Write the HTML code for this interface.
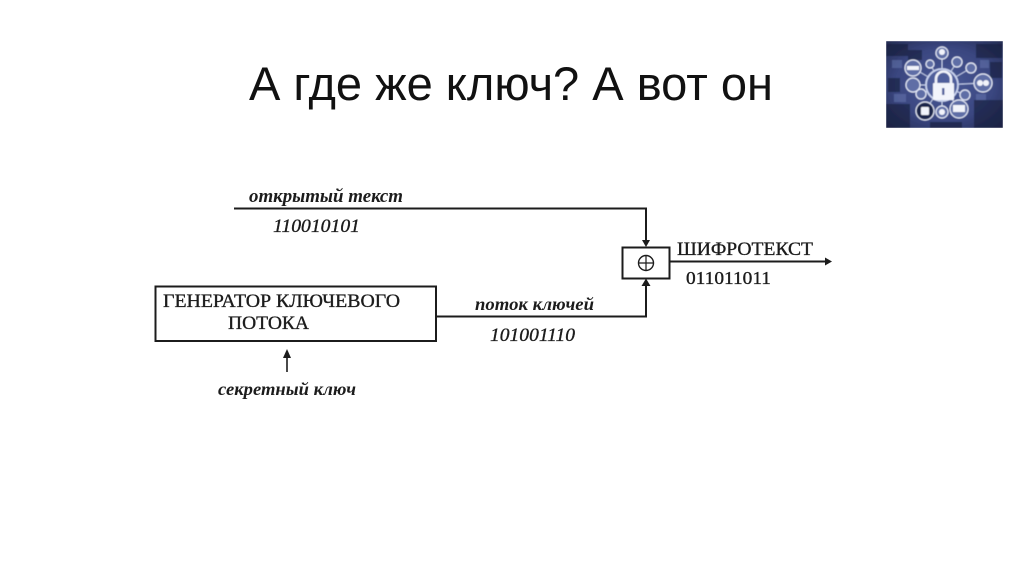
<!DOCTYPE html>
<html lang="ru">
<head>
<meta charset="utf-8">
<style>
html,body{margin:0;padding:0;background:#fff}
svg{display:block}
.s{font-family:"Liberation Serif","DejaVu Serif",serif;fill:#1c1c1c;font-weight:bold}
.n{font-weight:normal;stroke:#1c1c1c;stroke-width:.35px}
.i{font-style:italic}
</style>
</head>
<body>
<svg width="1024" height="574" viewBox="0 0 1024 574" xmlns="http://www.w3.org/2000/svg">
<defs>
<radialGradient id="bg" cx=".5" cy=".5" r=".7">
<stop offset="0" stop-color="#4a5a96"/><stop offset=".6" stop-color="#3a4680"/><stop offset="1" stop-color="#232c52"/>
</radialGradient>
<filter id="b" x="0" y="0" width="1" height="1"><feGaussianBlur stdDeviation=".5"/></filter>
<clipPath id="c"><rect x="886" y="41" width="117" height="87"/></clipPath>
</defs>
<rect width="1024" height="574" fill="#fff"/>
<text x="249" y="100" font-family="'Liberation Sans',sans-serif" font-size="47" fill="#111" textLength="524" lengthAdjust="spacingAndGlyphs">А где же ключ? А вот он</text>

<!-- picture -->
<g clip-path="url(#c)"><g filter="url(#b)">
<rect x="886" y="41" width="117" height="87" fill="url(#bg)"/>
<g fill="#161d3a" opacity=".6">
<rect x="886" y="44" width="22" height="12"/><rect x="908" y="50" width="14" height="10"/><rect x="976" y="44" width="26" height="14"/>
<rect x="888" y="78" width="12" height="14"/><rect x="990" y="62" width="12" height="16"/><rect x="886" y="104" width="24" height="24"/>
<rect x="974" y="100" width="29" height="28"/><rect x="930" y="122" width="32" height="6"/>
</g>
<g fill="#6f80b8" opacity=".45">
<rect x="892" y="60" width="10" height="8"/><rect x="980" y="60" width="9" height="8"/><rect x="894" y="94" width="12" height="8"/><rect x="976" y="94" width="10" height="6"/>
</g>
<g stroke="#c9d3ee" stroke-width="1" fill="none">
<path d="M942 85L942 56M942 85L913 68M942 85L930 64M942 85L957 62M942 85L971 68M942 85L983 83M942 85L965 95M942 85L959 109M942 85L942 112M942 85L925 111M942 85L921 94M942 85L913 85"/>
<circle cx="942" cy="85" r="16" stroke-width="1.800" fill="#4f5f9c"/>
</g>
<g stroke="#e4e9f7" stroke-width="1.200" fill="#5f6ea6">
<circle cx="942" cy="53" r="6"/><circle cx="930" cy="64" r="4"/><circle cx="957" cy="62" r="5"/><circle cx="971" cy="68" r="5"/>
<circle cx="913" cy="68" r="8"/><circle cx="913" cy="85" r="7"/><circle cx="921" cy="94" r="5"/><circle cx="983" cy="83" r="9"/>
<circle cx="965" cy="95" r="5"/><circle cx="925" cy="111" r="9" fill="#1f274c"/><circle cx="942" cy="112" r="6"/><circle cx="959" cy="109" r="9"/>
</g>
<g fill="#f2f4fb">
<rect x="933" y="83" width="21" height="17" rx="1"/>
<rect x="921" y="107" width="8" height="8" rx="1"/><circle cx="942" cy="112" r="3"/><rect x="953" y="105" width="12" height="7"/>
<circle cx="980" cy="83" r="3"/><circle cx="986" cy="83" r="3"/><circle cx="942" cy="52" r="3"/><rect x="907" y="66" width="12" height="4"/>
</g>
<path d="M936 83v-4a7.500 7.500 0 0 1 15 0v4" fill="none" stroke="#f2f4fb" stroke-width="2.600"/>
<rect x="942" y="88" width="2.500" height="7" fill="#55659f"/>
</g></g>

<!-- connectors -->
<g fill="none" stroke="#1c1c1c" stroke-width="2">
<path d="M234 208.500H646V241"/>
<path d="M436 316.500H646V285"/>
<path d="M670 261.500H826"/>
<rect x="622.500" y="247.500" width="47" height="31"/>
<rect x="155.500" y="286.500" width="280.500" height="54.500"/>
<path d="M287 356V372" stroke-width="1.600"/>
<circle cx="646" cy="263" r="7.500" stroke-width="1.400"/>
<path d="M638.500 263H653.500M646 255.500V270.500" stroke-width="1.200"/>
</g>
<g fill="#1c1c1c">
<path d="M642 240H650L646 247Z"/>
<path d="M641.500 286H650.500L646 278.500Z"/>
<path d="M825 257.500L832 261.500L825 265.500Z"/>
<path d="M283 358L287 349L291 358Z"/>
</g>

<!-- labels -->
<text class="s i" x="249" y="202" font-size="19" textLength="154" lengthAdjust="spacingAndGlyphs">открытый текст</text>
<text class="s i n" x="273" y="232" font-size="19" textLength="87" lengthAdjust="spacingAndGlyphs">110010101</text>
<text class="s n" x="677" y="255" font-size="19" textLength="136" lengthAdjust="spacingAndGlyphs">ШИФРОТЕКСТ</text>
<text class="s n" x="686" y="284" font-size="18" textLength="85" lengthAdjust="spacingAndGlyphs">011011011</text>
<text class="s n" x="163" y="307" font-size="19" textLength="237" lengthAdjust="spacingAndGlyphs">ГЕНЕРАТОР КЛЮЧЕВОГО</text>
<text class="s n" x="228" y="329" font-size="19" textLength="81" lengthAdjust="spacingAndGlyphs">ПОТОКА</text>
<text class="s i" x="475" y="310" font-size="18" textLength="119" lengthAdjust="spacingAndGlyphs">поток ключей</text>
<text class="s i n" x="490" y="341" font-size="19" textLength="85" lengthAdjust="spacingAndGlyphs">101001110</text>
<text class="s i" x="218" y="395" font-size="18" textLength="138" lengthAdjust="spacingAndGlyphs">секретный ключ</text>
</svg>
</body>
</html>
